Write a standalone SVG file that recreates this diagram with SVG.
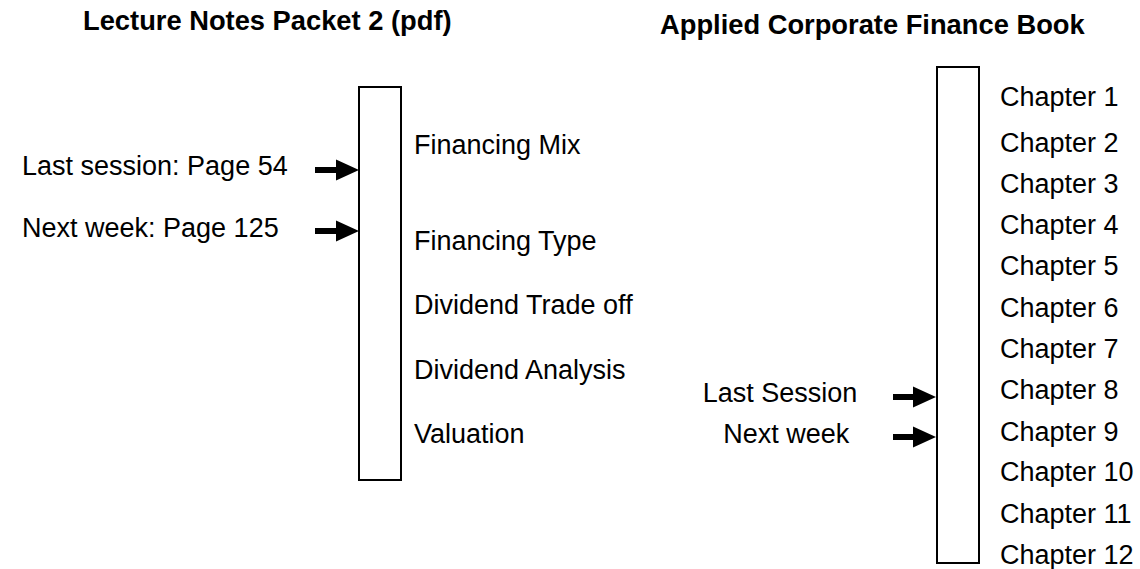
<svg xmlns="http://www.w3.org/2000/svg" width="1140" height="569" viewBox="0 0 1140 569">
  <style>
    .title { font-family: "Liberation Sans", Arial, sans-serif; font-weight: bold; font-size: 27.3px; fill: #000; }
    .lbl { font-family: "Liberation Sans", Arial, sans-serif; font-size: 27px; fill: #000; }
    .bar { fill: #fff; stroke: #000; stroke-width: 2; }
    .arrow { stroke: #000; stroke-width: 6; fill: none; marker-end: url(#head); }
  </style>
  <defs>
    <marker id="head" markerUnits="userSpaceOnUse" markerWidth="23" markerHeight="22" refX="2" refY="11" orient="auto">
      <path d="M0,0.5 L23,11 L0,21.5 Z" fill="#000"/>
    </marker>
  </defs>
  <rect width="1140" height="569" fill="#fff"/>

  <g id="title-left"><text class="title" x="83" y="30">Lecture Notes Packet 2 (pdf)</text></g>
  <g id="title-right"><text class="title" x="660" y="34">Applied Corporate Finance Book</text></g>

  <g id="packet">
    <rect class="bar" x="359" y="87" width="42" height="393"/>
    <text class="lbl" x="414" y="154">Financing Mix</text>
    <text class="lbl" x="414" y="250">Financing Type</text>
    <text class="lbl" x="414" y="314">Dividend Trade off</text>
    <text class="lbl" x="414" y="379">Dividend Analysis</text>
    <text class="lbl" x="414" y="443">Valuation</text>
  </g>

  <g id="book">
    <rect class="bar" x="937" y="67" width="42" height="496"/>
    <text class="lbl" x="1000" y="106">Chapter 1</text>
    <text class="lbl" x="1000" y="151.5">Chapter 2</text>
    <text class="lbl" x="1000" y="192.7">Chapter 3</text>
    <text class="lbl" x="1000" y="233.5">Chapter 4</text>
    <text class="lbl" x="1000" y="275">Chapter 5</text>
    <text class="lbl" x="1000" y="316.5">Chapter 6</text>
    <text class="lbl" x="1000" y="357.5">Chapter 7</text>
    <text class="lbl" x="1000" y="399">Chapter 8</text>
    <text class="lbl" x="1000" y="440.5">Chapter 9</text>
    <text class="lbl" x="1000" y="481">Chapter 10</text>
    <text class="lbl" x="1000" y="522.5">Chapter 11</text>
    <text class="lbl" x="1000" y="563.5">Chapter 12</text>
  </g>

  <g id="lbl-last-session-packet"><text class="lbl" x="22" y="175">Last session: Page 54</text></g>
  <g id="lbl-next-week-packet"><text class="lbl" x="22" y="236.5">Next week: Page 125</text></g>
  <g id="lbl-last-session-book"><text class="lbl" x="702.7" y="401.5">Last Session</text></g>
  <g id="lbl-next-week-book"><text class="lbl" x="723.3" y="442.5">Next week</text></g>

  <g id="connectors">
    <line class="arrow" x1="315" y1="170" x2="338" y2="170"/>
    <line class="arrow" x1="315" y1="231" x2="338" y2="231"/>
    <line class="arrow" x1="893" y1="397" x2="915" y2="397"/>
    <line class="arrow" x1="893" y1="437" x2="915" y2="437"/>
  </g>
</svg>
